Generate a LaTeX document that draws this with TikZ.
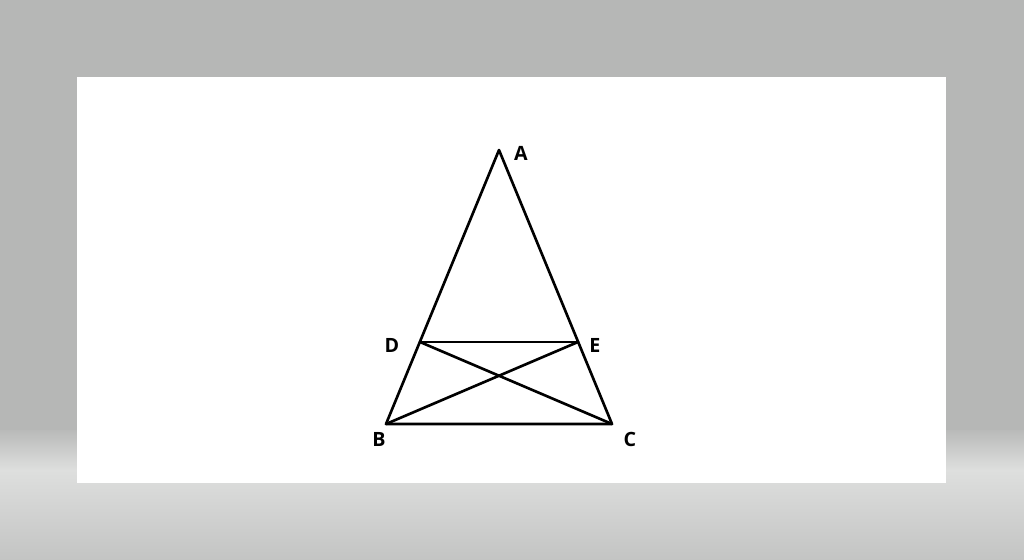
\documentclass[tikz,border=0pt]{standalone}
\usepackage{fontspec}
\setmainfont{Open Sans}
\definecolor{bgtop}{HTML}{B6B7B6}
\definecolor{bgmid}{HTML}{B9BAB9}
\definecolor{bglight}{HTML}{DEDFDE}
\definecolor{bgbot}{HTML}{C3C4C3}
\begin{document}
\begin{tikzpicture}[x=0.02cm,y=-0.02cm,
  edge/.style={line width=1.5pt,line join=round,line cap=round},
  lbl/.style={font=\fontsize{11.2}{13}\selectfont\bfseries,inner sep=0pt}]
\useasboundingbox (0,0) rectangle (1024,560);
\fill[bgtop] (0,0) rectangle (1024,430);
\shade[top color=bgmid,bottom color=bglight] (0,430) rectangle (1024,470);
\shade[top color=bglight,bottom color=bgbot] (0,470) rectangle (1024,560);
\fill[white] (77,77) rectangle (946,483);
\coordinate (A) at (499,150);
\coordinate (B) at (386,424);
\coordinate (C) at (612,424);
\coordinate (D) at (420,342);
\coordinate (E) at (578,342);
\draw[edge] (A) -- (B) -- (C) -- cycle;
\draw[edge] (D) -- (E);
\draw[edge] (D) -- (C);
\draw[edge] (E) -- (B);
\node[lbl] (lA) at (521,153) {A};
\node[lbl] (lB) at (379,439) {B};
\node[lbl] (lC) at (630,439) {C};
\node[lbl] (lD) at (392,345) {D};
\node[lbl] (lE) at (595,345) {E};
\end{tikzpicture}
\end{document}
